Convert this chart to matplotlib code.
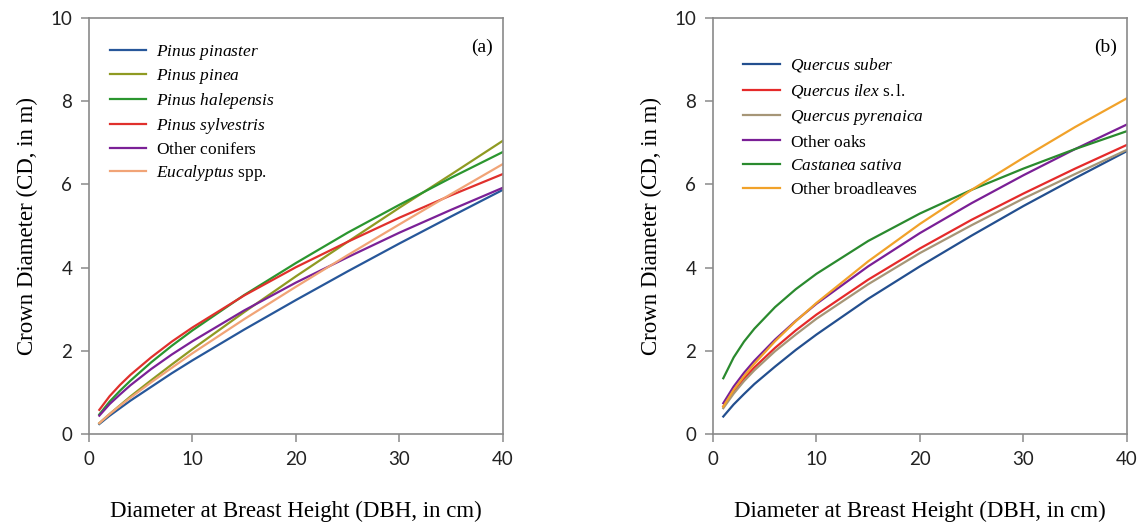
import matplotlib
matplotlib.use("Agg")
import matplotlib.pyplot as plt

plt.rcParams["mathtext.fontset"] = "custom"
plt.rcParams["mathtext.rm"] = "Liberation Serif"
plt.rcParams["mathtext.it"] = "Liberation Serif:italic"

# DBH values (cm) at which the crown diameter curves were read
dbh = [1, 2, 3, 4, 6, 8, 10, 15, 20, 25, 30, 35, 40]

# (a) conifers and eucalyptus, crown diameter in m
pinaster = [0.24, 0.44, 0.62, 0.80, 1.13, 1.46, 1.77, 2.51, 3.22, 3.91, 4.58, 5.23, 5.87]
pinea = [0.26, 0.48, 0.69, 0.90, 1.29, 1.67, 2.04, 2.93, 3.79, 4.62, 5.44, 6.24, 7.05]
halepensis = [0.47, 0.78, 1.04, 1.28, 1.72, 2.12, 2.49, 3.34, 4.11, 4.84, 5.51, 6.16, 6.78]
sylvestris = [0.58, 0.91, 1.18, 1.42, 1.84, 2.22, 2.56, 3.33, 4.01, 4.62, 5.20, 5.74, 6.25]
other_conifers = [0.44, 0.72, 0.95, 1.17, 1.56, 1.91, 2.23, 2.97, 3.64, 4.25, 4.84, 5.39, 5.92]
eucalyptus = [0.26, 0.48, 0.68, 0.87, 1.24, 1.59, 1.94, 2.76, 3.54, 4.30, 5.04, 5.77, 6.49]

# (b) broadleaves
suber = [0.42, 0.71, 0.96, 1.20, 1.62, 2.02, 2.39, 3.25, 4.03, 4.77, 5.48, 6.15, 6.80]
ilex = [0.66, 1.03, 1.33, 1.60, 2.07, 2.49, 2.87, 3.71, 4.46, 5.15, 5.78, 6.38, 6.95]
pyrenaica = [0.62, 0.97, 1.27, 1.53, 1.99, 2.39, 2.77, 3.60, 4.35, 5.02, 5.66, 6.25, 6.83]
other_oaks = [0.74, 1.14, 1.47, 1.76, 2.27, 2.72, 3.13, 4.03, 4.83, 5.55, 6.22, 6.85, 7.44]
castanea = [1.34, 1.84, 2.22, 2.53, 3.05, 3.48, 3.85, 4.64, 5.30, 5.87, 6.38, 6.85, 7.28]
other_broadleaves = [0.66, 1.06, 1.39, 1.69, 2.23, 2.71, 3.15, 4.15, 5.05, 5.87, 6.64, 7.38, 8.07]

# every label goes through mathtext so that all legend rows get the same height
series_a = [
    (pinaster, r"$\mathit{Pinus\ pinaster}$", "#27579a"),
    (pinea, r"$\mathit{Pinus\ pinea}$", "#8f9a22"),
    (halepensis, r"$\mathit{Pinus\ halepensis}$", "#2b962f"),
    (sylvestris, r"$\mathit{Pinus\ sylvestris}$", "#e0302c"),
    (other_conifers, r"$\mathrm{Other\ conifers}$", "#7b2197"),
    (eucalyptus, r"$\mathit{Eucalyptus}\ \mathrm{spp.}$", "#f1a477"),
]
series_b = [
    (suber, r"$\mathit{Quercus\ suber}$", "#234f8f"),
    (ilex, r"$\mathit{Quercus\ ilex}\ \mathrm{s.l.}$", "#e52a2a"),
    (pyrenaica, r"$\mathit{Quercus\ pyrenaica}$", "#a69677"),
    (other_oaks, r"$\mathrm{Other\ oaks}$", "#7a1f96"),
    (castanea, r"$\mathit{Castanea\ sativa}$", "#2a8a2e"),
    (other_broadleaves, r"$\mathrm{Other\ broadleaves}$", "#f1a22a"),
]

fig = plt.figure(figsize=(11.42, 5.23), dpi=100)
ax_a = fig.add_axes([0.0779, 0.1702, 0.3625, 0.7954])
ax_b = fig.add_axes([0.6243, 0.1702, 0.3625, 0.7954])

panels = [(ax_a, series_a, "(a)", (0.012, 0.978), 0.3),
          (ax_b, series_b, "(b)", (0.036, 0.945), 0.44)]

for ax, series, tag, anchor, spacing in panels:
    for vals, name, col in series:
        ax.plot(dbh, vals, color=col, lw=1.6, label=name)
    ax.set_xlim(0, 40)
    ax.set_ylim(0, 10)
    ax.set_xticks([0, 10, 20, 30, 40])
    ax.set_yticks([0, 2, 4, 6, 8, 10])
    for sp in ax.spines.values():
        sp.set_color("#8a8a8a")
        sp.set_linewidth(1.2)
    ax.tick_params(direction="out", length=6, width=1.1, color="#8a8a8a",
                   labelsize=13.5, pad=6, labelcolor="#222222")
    for lab in ax.get_xticklabels() + ax.get_yticklabels():
        lab.set_fontfamily("Lato")
    ax.set_xlabel("Diameter at Breast Height (DBH, in cm)", fontsize=16.5,
                  family="Liberation Serif", labelpad=24)
    ax.set_ylabel("Crown Diameter (CD, in m)", fontsize=16.5,
                  family="Liberation Serif", labelpad=9)
    ax.text(0.975, 0.93, tag, transform=ax.transAxes, ha="right", va="center",
            fontsize=14, family="Liberation Serif")
    ax.legend(loc="upper left", bbox_to_anchor=anchor, frameon=False,
              prop={"family": "Liberation Serif", "size": 12.5},
              handlelength=2.1, labelspacing=spacing, handletextpad=0.6)

fig.savefig("out.png", dpi=100)
